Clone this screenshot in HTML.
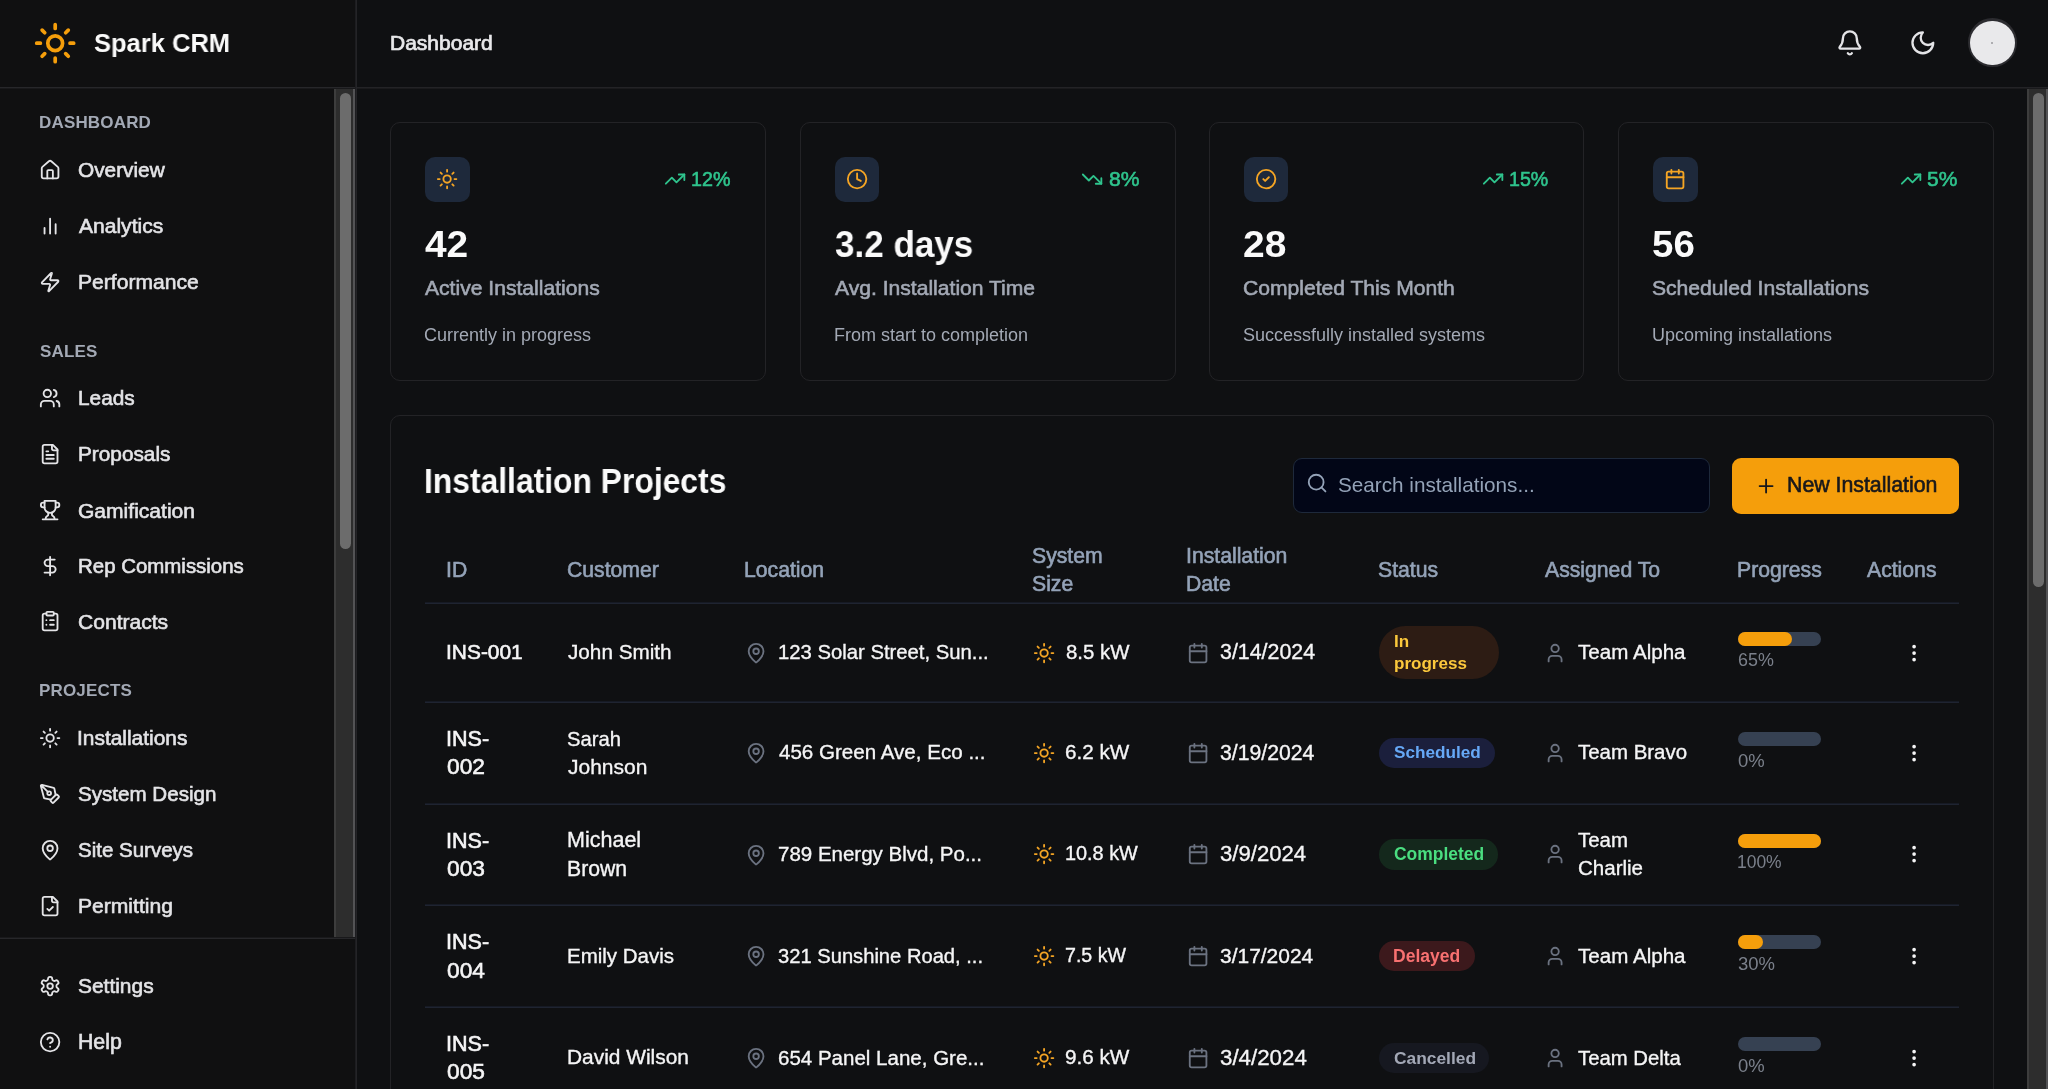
<!DOCTYPE html>
<html><head><meta charset="utf-8"><title>Spark CRM</title>
<style>
html,body{margin:0;padding:0;width:2048px;height:1089px;overflow:hidden;background:#0f1012;font-family:'Liberation Sans', sans-serif;}
.t{position:absolute;white-space:nowrap;font-family:'Liberation Sans', sans-serif;will-change:transform;}
.b{position:absolute;}
.i{position:absolute;overflow:visible;}
</style></head><body>
<div class="b" style="left:0px;top:0px;width:355px;height:1089px;background:#101011;"></div>
<div class="b" style="left:355px;top:0px;width:1px;height:1089px;background:#1d1d20;"></div>
<div class="b" style="left:356px;top:0px;width:1px;height:1089px;background:#242427;"></div>
<div class="b" style="left:0px;top:87px;width:355px;height:1px;background:#27272a;"></div>
<div class="b" style="left:0px;top:88px;width:355px;height:1px;background:#19191b;"></div>
<div class="b" style="left:357px;top:87px;width:1691px;height:1px;background:#232326;"></div>
<div class="b" style="left:357px;top:88px;width:1691px;height:1px;background:#1a1a1c;"></div>
<div class="b" style="left:0px;top:938px;width:355px;height:1px;background:#27272a;"></div>
<div class="b" style="left:0px;top:937px;width:355px;height:1px;background:#19191b;"></div>
<svg class="i" style="left:33.4px;top:21.3px;width:44.4px;height:44.4px" viewBox="0 0 24 24" fill="none" stroke="#f59e0b" stroke-width="2" stroke-linecap="round" stroke-linejoin="round"><circle cx="12" cy="12" r="4"/><path d="M12 2v2M12 20v2M4.93 4.93l1.41 1.41M17.66 17.66l1.41 1.41M2 12h2M20 12h2M6.34 17.66l-1.41 1.41M19.07 4.93l-1.41 1.41"/></svg>
<div class="t" style="top:30.32px;font-size:26.3px;line-height:26.3px;color:#fafafa;transform:scaleX(0.9702);transform-origin:0 50%;font-weight:700;left:94.43px;">Spark CRM</div>
<div class="t" style="top:32px;font-size:21px;line-height:21px;color:#e8e8ea;-webkit-text-stroke:0.72px #e8e8ea;left:389.62px;">Dashboard</div>
<svg class="i" style="left:1836.05px;top:28.75px;width:27.7px;height:27.7px" viewBox="0 0 24 24" fill="none" stroke="#e4e4e7" stroke-width="2" stroke-linecap="round" stroke-linejoin="round"><path d="M10.268 21a2 2 0 0 0 3.464 0"/><path d="M3.262 15.326A1 1 0 0 0 4 17h16a1 1 0 0 0 .74-1.673C19.41 13.956 18 12.499 18 8A6 6 0 0 0 6 8c0 4.499-1.411 5.956-2.738 7.326"/></svg>
<svg class="i" style="left:1908.75px;top:29.15px;width:27.7px;height:27.7px" viewBox="0 0 24 24" fill="none" stroke="#e4e4e7" stroke-width="2" stroke-linecap="round" stroke-linejoin="round"><path d="M12 3a6 6 0 0 0 9 9 9 9 0 1 1-9-9Z"/></svg>
<div class="b" style="left:1967.8px;top:18.4px;width:49px;height:49px;border-radius:50%;background:#2c2c30"></div>
<div class="b" style="left:1970px;top:20.6px;width:44.6px;height:44.6px;border-radius:50%;background:#e9e9eb"></div>
<div class="b" style="left:1991px;top:42px;width:2px;height:2px;border-radius:50%;background:#9a9a9e"></div>
<div class="t" style="top:113.91px;font-size:17px;line-height:17px;color:#a3a9b5;font-weight:700;letter-spacing:0.17px;left:39.31px;">DASHBOARD</div>
<div class="t" style="top:342.52px;font-size:17px;line-height:17px;color:#a3a9b5;font-weight:700;letter-spacing:0.17px;left:39.59px;">SALES</div>
<div class="t" style="top:682.21px;font-size:17px;line-height:17px;color:#a3a9b5;font-weight:700;letter-spacing:0.17px;left:39.21px;">PROJECTS</div>
<svg class="i" style="left:39.1px;top:158.75px;width:22.2px;height:22.2px" viewBox="0 0 24 24" fill="none" stroke="#e4e4e7" stroke-width="2" stroke-linecap="round" stroke-linejoin="round"><path d="M15 21v-8a1 1 0 0 0-1-1h-4a1 1 0 0 0-1 1v8"/><path d="M3 10a2 2 0 0 1 .709-1.528l7-5.999a2 2 0 0 1 2.582 0l7 5.999A2 2 0 0 1 21 10v9a2 2 0 0 1-2 2H5a2 2 0 0 1-2-2z"/></svg>
<div class="t" style="top:159.65px;font-size:20.8px;line-height:20.8px;color:#e4e4e7;-webkit-text-stroke:0.6px #e4e4e7;left:78.26px;">Overview</div>
<svg class="i" style="left:39.1px;top:214.65px;width:22.2px;height:22.2px" viewBox="0 0 24 24" fill="none" stroke="#e4e4e7" stroke-width="2" stroke-linecap="round" stroke-linejoin="round"><path d="M18 20V10M12 20V4M6 20v-6"/></svg>
<div class="t" style="top:215.41px;font-size:21.06px;line-height:21.06px;color:#e4e4e7;-webkit-text-stroke:0.6px #e4e4e7;left:79.3px;">Analytics</div>
<svg class="i" style="left:39.1px;top:270.5px;width:22.2px;height:22.2px" viewBox="0 0 24 24" fill="none" stroke="#e4e4e7" stroke-width="2" stroke-linecap="round" stroke-linejoin="round"><path d="M4 14a1 1 0 0 1-.78-1.63l9.9-10.2a.5.5 0 0 1 .86.46l-1.92 6.02A1 1 0 0 0 13 10h7a1 1 0 0 1 .78 1.63l-9.9 10.2a.5.5 0 0 1-.86-.46l1.92-6.02A1 1 0 0 0 11 14z"/></svg>
<div class="t" style="top:271.25px;font-size:21.09px;line-height:21.09px;color:#e4e4e7;-webkit-text-stroke:0.6px #e4e4e7;left:77.61px;">Performance</div>
<svg class="i" style="left:39.1px;top:387.2px;width:22.2px;height:22.2px" viewBox="0 0 24 24" fill="none" stroke="#e4e4e7" stroke-width="2" stroke-linecap="round" stroke-linejoin="round"><path d="M16 21v-2a4 4 0 0 0-4-4H6a4 4 0 0 0-4 4v2"/><circle cx="9" cy="7" r="4"/><path d="M22 21v-2a4 4 0 0 0-3-3.87M16 3.13a4 4 0 0 1 0 7.75"/></svg>
<div class="t" style="top:388.1px;font-size:20.8px;line-height:20.8px;color:#e4e4e7;-webkit-text-stroke:0.6px #e4e4e7;left:77.64px;">Leads</div>
<svg class="i" style="left:39.1px;top:443.2px;width:22.2px;height:22.2px" viewBox="0 0 24 24" fill="none" stroke="#e4e4e7" stroke-width="2" stroke-linecap="round" stroke-linejoin="round"><path d="M15 2H6a2 2 0 0 0-2 2v16a2 2 0 0 0 2 2h12a2 2 0 0 0 2-2V7Z"/><path d="M14 2v4a2 2 0 0 0 2 2h4M10 9H8M16 13H8M16 17H8"/></svg>
<div class="t" style="top:444.1px;font-size:20.79px;line-height:20.79px;color:#e4e4e7;-webkit-text-stroke:0.6px #e4e4e7;left:77.64px;">Proposals</div>
<svg class="i" style="left:39.1px;top:499.05px;width:22.2px;height:22.2px" viewBox="0 0 24 24" fill="none" stroke="#e4e4e7" stroke-width="2" stroke-linecap="round" stroke-linejoin="round"><path d="M6 9H4.5a2.5 2.5 0 0 1 0-5H6M18 9h1.5a2.5 2.5 0 0 0 0-5H18M4 22h16M10 14.66V17c0 .55-.47.98-.97 1.21C7.85 18.75 7 20.24 7 22M14 14.66V17c0 .55.47.98.97 1.21C16.15 18.75 17 20.24 17 22"/><path d="M18 2H6v7a6 6 0 0 0 12 0V2Z"/></svg>
<div class="t" style="top:499.82px;font-size:21.05px;line-height:21.05px;color:#e4e4e7;-webkit-text-stroke:0.6px #e4e4e7;left:78.25px;">Gamification</div>
<svg class="i" style="left:39.1px;top:554.8px;width:22.2px;height:22.2px" viewBox="0 0 24 24" fill="none" stroke="#e4e4e7" stroke-width="2" stroke-linecap="round" stroke-linejoin="round"><path d="M12 2v20M17 5H9.5a3.5 3.5 0 0 0 0 7h5a3.5 3.5 0 0 1 0 7H6"/></svg>
<div class="t" style="top:555.87px;font-size:20.45px;line-height:20.45px;color:#e4e4e7;-webkit-text-stroke:0.6px #e4e4e7;left:77.66px;">Rep Commissions</div>
<svg class="i" style="left:39.1px;top:610.25px;width:22.2px;height:22.2px" viewBox="0 0 24 24" fill="none" stroke="#e4e4e7" stroke-width="2" stroke-linecap="round" stroke-linejoin="round"><rect width="8" height="4" x="8" y="2" rx="1" ry="1"/><path d="M16 4h2a2 2 0 0 1 2 2v14a2 2 0 0 1-2 2H6a2 2 0 0 1-2-2V6a2 2 0 0 1 2-2h2M12 11h4M12 16h4M8 11h.01M8 16h.01"/></svg>
<div class="t" style="top:611.01px;font-size:21.07px;line-height:21.07px;color:#e4e4e7;-webkit-text-stroke:0.6px #e4e4e7;left:78.25px;">Contracts</div>
<svg class="i" style="left:39.1px;top:727.4px;width:22.2px;height:22.2px" viewBox="0 0 24 24" fill="none" stroke="#e4e4e7" stroke-width="2" stroke-linecap="round" stroke-linejoin="round"><circle cx="12" cy="12" r="4"/><path d="M12 2v2M12 20v2M4.93 4.93l1.41 1.41M17.66 17.66l1.41 1.41M2 12h2M20 12h2M6.34 17.66l-1.41 1.41M19.07 4.93l-1.41 1.41"/></svg>
<div class="t" style="top:728.24px;font-size:20.91px;line-height:20.91px;color:#e4e4e7;-webkit-text-stroke:0.6px #e4e4e7;left:77.42px;">Installations</div>
<svg class="i" style="left:39.1px;top:783.25px;width:22.2px;height:22.2px" viewBox="0 0 24 24" fill="none" stroke="#e4e4e7" stroke-width="2" stroke-linecap="round" stroke-linejoin="round"><path d="M15.707 21.293a1 1 0 0 1-1.414 0l-1.586-1.586a1 1 0 0 1 0-1.414l5.586-5.586a1 1 0 0 1 1.414 0l1.586 1.586a1 1 0 0 1 0 1.414z"/><path d="m18 13-1.375-6.874a1 1 0 0 0-.746-.776L3.235 2.028a1 1 0 0 0-1.207 1.207L5.35 15.879a1 1 0 0 0 .776.746L13 18M2.3 2.3l7.286 7.286"/><circle cx="11" cy="11" r="2"/></svg>
<div class="t" style="top:784.25px;font-size:20.59px;line-height:20.59px;color:#e4e4e7;-webkit-text-stroke:0.6px #e4e4e7;left:78.27px;">System Design</div>
<svg class="i" style="left:39.1px;top:838.8px;width:22.2px;height:22.2px" viewBox="0 0 24 24" fill="none" stroke="#e4e4e7" stroke-width="2" stroke-linecap="round" stroke-linejoin="round"><path d="M20 10c0 4.993-5.539 10.193-7.399 11.799a1 1 0 0 1-1.202 0C9.539 20.193 4 14.993 4 10a8 8 0 0 1 16 0"/><circle cx="12" cy="10" r="3"/></svg>
<div class="t" style="top:839.84px;font-size:20.51px;line-height:20.51px;color:#e4e4e7;-webkit-text-stroke:0.6px #e4e4e7;left:78.27px;">Site Surveys</div>
<svg class="i" style="left:39.1px;top:894.65px;width:22.2px;height:22.2px" viewBox="0 0 24 24" fill="none" stroke="#e4e4e7" stroke-width="2" stroke-linecap="round" stroke-linejoin="round"><path d="M15 2H6a2 2 0 0 0-2 2v16a2 2 0 0 0 2 2h12a2 2 0 0 0 2-2V7Z"/><path d="M14 2v4a2 2 0 0 0 2 2h4M9 15l2 2 4-4"/></svg>
<div class="t" style="top:895.4px;font-size:21.08px;line-height:21.08px;color:#e4e4e7;-webkit-text-stroke:0.6px #e4e4e7;left:77.61px;">Permitting</div>
<svg class="i" style="left:39.1px;top:975.15px;width:22.2px;height:22.2px" viewBox="0 0 24 24" fill="none" stroke="#e4e4e7" stroke-width="2" stroke-linecap="round" stroke-linejoin="round"><path d="M12.22 2h-.44a2 2 0 0 0-2 2v.18a2 2 0 0 1-1 1.73l-.43.25a2 2 0 0 1-2 0l-.15-.08a2 2 0 0 0-2.73.73l-.22.38a2 2 0 0 0 .73 2.73l.15.1a2 2 0 0 1 1 1.72v.51a2 2 0 0 1-1 1.74l-.15.09a2 2 0 0 0-.73 2.73l.22.38a2 2 0 0 0 2.73.73l.15-.08a2 2 0 0 1 2 0l.43.25a2 2 0 0 1 1 1.73V20a2 2 0 0 0 2 2h.44a2 2 0 0 0 2-2v-.18a2 2 0 0 1 1-1.73l.43-.25a2 2 0 0 1 2 0l.15.08a2 2 0 0 0 2.73-.73l.22-.39a2 2 0 0 0-.73-2.73l-.15-.08a2 2 0 0 1-1-1.74v-.5a2 2 0 0 1 1-1.74l.15-.09a2 2 0 0 0 .73-2.73l-.22-.38a2 2 0 0 0-2.73-.73l-.15.08a2 2 0 0 1-2 0l-.43-.25a2 2 0 0 1-1-1.73V4a2 2 0 0 0-2-2z"/><circle cx="12" cy="12" r="3"/></svg>
<div class="t" style="top:975.98px;font-size:20.93px;line-height:20.93px;color:#e4e4e7;-webkit-text-stroke:0.6px #e4e4e7;left:78.25px;">Settings</div>
<svg class="i" style="left:39.1px;top:1030.95px;width:22.2px;height:22.2px" viewBox="0 0 24 24" fill="none" stroke="#e4e4e7" stroke-width="2" stroke-linecap="round" stroke-linejoin="round"><circle cx="12" cy="12" r="10"/><path d="M9.09 9a3 3 0 0 1 5.83 1c0 2-3 3-3 3M12 17h.01"/></svg>
<div class="t" style="top:1031.6px;font-size:21.29px;line-height:21.29px;color:#e4e4e7;-webkit-text-stroke:0.6px #e4e4e7;left:77.6px;">Help</div>
<div class="b" style="left:334px;top:89px;width:21px;height:848px;background:#2d2d2d;"></div>
<div class="b" style="left:334px;top:89px;width:2px;height:848px;background:#3d3d3d;"></div>
<div class="b" style="left:353px;top:89px;width:2px;height:848px;background:#535355;"></div>
<div class="b" style="left:340px;top:93px;width:11px;height:456px;background:#6c6c6c;border-radius:5.5px;"></div>
<div class="b" style="left:2027px;top:89px;width:21px;height:1000px;background:#2d2d2d;"></div>
<div class="b" style="left:2027px;top:89px;width:2px;height:1000px;background:#3d3d3d;"></div>
<div class="b" style="left:2046px;top:89px;width:2px;height:1000px;background:#535355;"></div>
<div class="b" style="left:2033px;top:93px;width:11px;height:494px;background:#6c6c6c;border-radius:5.5px;"></div>
<div class="b" style="left:390px;top:122.4px;width:375.9px;height:259.1px;border:1px solid #232326;border-radius:10px;background:transparent;box-sizing:border-box;"></div>
<div class="b" style="left:425.2px;top:157.2px;width:44.4px;height:44.4px;background:#1e293b;border-radius:10px;"></div>
<svg class="i" style="left:436.3px;top:168.3px;width:22.2px;height:22.2px" viewBox="0 0 24 24" fill="none" stroke="#f5a524" stroke-width="2" stroke-linecap="round" stroke-linejoin="round"><circle cx="12" cy="12" r="4"/><path d="M12 2v2M12 20v2M4.93 4.93l1.41 1.41M17.66 17.66l1.41 1.41M2 12h2M20 12h2M6.34 17.66l-1.41 1.41M19.07 4.93l-1.41 1.41"/></svg>
<div class="t" style="top:227.22px;font-size:36.5px;line-height:36.5px;color:#fafafa;transform:scaleX(1.0649);transform-origin:0 50%;font-weight:700;left:425.31px;">42</div>
<div class="t" style="top:277.39px;font-size:21.1px;line-height:21.1px;color:#a3a9b5;-webkit-text-stroke:0.6px #a3a9b5;left:425.2px;">Active Installations</div>
<div class="t" style="top:326.11px;font-size:18px;line-height:18px;color:#a3a9b5;left:424.3px;">Currently in progress</div>
<div class="t" style="top:170.4px;font-size:19.7px;line-height:19.7px;color:#2fc48d;-webkit-text-stroke:0.6px #2fc48d;left:690.52px;">12%</div>
<svg class="i" style="left:664px;top:168.4px;width:22.2px;height:22.2px" viewBox="0 0 24 24" fill="none" stroke="#2fc48d" stroke-width="2" stroke-linecap="round" stroke-linejoin="round"><path d="M22 7l-8.5 8.5-5-5L2 17"/><path d="M16 7h6v6"/></svg>
<div class="b" style="left:799.8px;top:122.4px;width:375.9px;height:259.1px;border:1px solid #232326;border-radius:10px;background:transparent;box-sizing:border-box;"></div>
<div class="b" style="left:835px;top:157.2px;width:44.4px;height:44.4px;background:#1e293b;border-radius:10px;"></div>
<svg class="i" style="left:846.1px;top:168.3px;width:22.2px;height:22.2px" viewBox="0 0 24 24" fill="none" stroke="#f5a524" stroke-width="2" stroke-linecap="round" stroke-linejoin="round"><circle cx="12" cy="12" r="10"/><path d="M12 6v6l4 2"/></svg>
<div class="t" style="top:227.22px;font-size:36.5px;line-height:36.5px;color:#fafafa;transform:scaleX(0.9593);transform-origin:0 50%;font-weight:700;left:834.5px;">3.2 days</div>
<div class="t" style="top:277.39px;font-size:21.1px;line-height:21.1px;color:#a3a9b5;-webkit-text-stroke:0.6px #a3a9b5;left:835px;">Avg. Installation Time</div>
<div class="t" style="top:326.11px;font-size:18px;line-height:18px;color:#a3a9b5;left:833.56px;">From start to completion</div>
<div class="t" style="top:168.09px;font-size:21.1px;line-height:21.1px;color:#2fc48d;-webkit-text-stroke:0.6px #2fc48d;left:1108.66px;">8%</div>
<svg class="i" style="left:1081px;top:168.4px;width:22.2px;height:22.2px" viewBox="0 0 24 24" fill="none" stroke="#2fc48d" stroke-width="2" stroke-linecap="round" stroke-linejoin="round"><path d="M22 17l-8.5-8.5-5 5L2 7"/><path d="M16 17h6v-6"/></svg>
<div class="b" style="left:1208.6px;top:122.4px;width:375.9px;height:259.1px;border:1px solid #232326;border-radius:10px;background:transparent;box-sizing:border-box;"></div>
<div class="b" style="left:1243.8px;top:157.2px;width:44.4px;height:44.4px;background:#1e293b;border-radius:10px;"></div>
<svg class="i" style="left:1254.9px;top:168.3px;width:22.2px;height:22.2px" viewBox="0 0 24 24" fill="none" stroke="#f5a524" stroke-width="2" stroke-linecap="round" stroke-linejoin="round"><circle cx="12" cy="12" r="10"/><path d="m9 12 2 2 4-4"/></svg>
<div class="t" style="top:227.22px;font-size:36.5px;line-height:36.5px;color:#fafafa;transform:scaleX(1.0672);transform-origin:0 50%;font-weight:700;left:1243.23px;">28</div>
<div class="t" style="top:277.39px;font-size:21.1px;line-height:21.1px;color:#a3a9b5;-webkit-text-stroke:0.6px #a3a9b5;left:1242.74px;">Completed This Month</div>
<div class="t" style="top:326.11px;font-size:18px;line-height:18px;color:#a3a9b5;left:1242.9px;">Successfully installed systems</div>
<div class="t" style="top:170.45px;font-size:19.6px;line-height:19.6px;color:#2fc48d;-webkit-text-stroke:0.6px #2fc48d;left:1509.33px;">15%</div>
<svg class="i" style="left:1481.7px;top:168.4px;width:22.2px;height:22.2px" viewBox="0 0 24 24" fill="none" stroke="#2fc48d" stroke-width="2" stroke-linecap="round" stroke-linejoin="round"><path d="M22 7l-8.5 8.5-5-5L2 17"/><path d="M16 7h6v6"/></svg>
<div class="b" style="left:1618.1px;top:122.4px;width:375.9px;height:259.1px;border:1px solid #232326;border-radius:10px;background:transparent;box-sizing:border-box;"></div>
<div class="b" style="left:1653.3px;top:157.2px;width:44.4px;height:44.4px;background:#1e293b;border-radius:10px;"></div>
<svg class="i" style="left:1664.4px;top:168.3px;width:22.2px;height:22.2px" viewBox="0 0 24 24" fill="none" stroke="#f5a524" stroke-width="2" stroke-linecap="round" stroke-linejoin="round"><path d="M8 2v4M16 2v4"/><rect width="18" height="18" x="3" y="4" rx="2"/><path d="M3 10h18"/></svg>
<div class="t" style="top:227.22px;font-size:36.5px;line-height:36.5px;color:#fafafa;transform:scaleX(1.0541);transform-origin:0 50%;font-weight:700;left:1652.15px;">56</div>
<div class="t" style="top:277.39px;font-size:21.1px;line-height:21.1px;color:#a3a9b5;-webkit-text-stroke:0.6px #a3a9b5;left:1652.24px;">Scheduled Installations</div>
<div class="t" style="top:326.11px;font-size:18px;line-height:18px;color:#a3a9b5;left:1651.86px;">Upcoming installations</div>
<div class="t" style="top:168.15px;font-size:21px;line-height:21px;color:#2fc48d;-webkit-text-stroke:0.6px #2fc48d;left:1927.26px;">5%</div>
<svg class="i" style="left:1899.5px;top:168.4px;width:22.2px;height:22.2px" viewBox="0 0 24 24" fill="none" stroke="#2fc48d" stroke-width="2" stroke-linecap="round" stroke-linejoin="round"><path d="M22 7l-8.5 8.5-5-5L2 17"/><path d="M16 7h6v6"/></svg>
<div class="b" style="left:390px;top:415px;width:1603.5px;height:720px;border:1px solid #232326;border-radius:10px;background:transparent;box-sizing:border-box;"></div>
<div class="t" style="top:463.93px;font-size:34.4px;line-height:34.4px;color:#fafafa;transform:scaleX(0.9250);transform-origin:0 50%;font-weight:700;left:424.17px;">Installation Projects</div>
<div class="b" style="left:1292.6px;top:458px;width:417.2px;height:55.4px;border:1px solid #1e293b;border-radius:9px;background:#020617;box-sizing:border-box;"></div>
<svg class="i" style="left:1306.2px;top:472.3px;width:22.2px;height:22.2px" viewBox="0 0 24 24" fill="none" stroke="#94a3b8" stroke-width="2" stroke-linecap="round" stroke-linejoin="round"><circle cx="11" cy="11" r="8"/><path d="m21 21-4.3-4.3"/></svg>
<div class="t" style="top:475.25px;font-size:20.7px;line-height:20.7px;color:#94a3b8;left:1337.76px;">Search installations...</div>
<div class="b" style="left:1732.4px;top:458px;width:226.7px;height:56px;background:#f59e0b;border-radius:9px;"></div>
<svg class="i" style="left:1754.7px;top:474.7px;width:22.2px;height:22.2px" viewBox="0 0 24 24" fill="none" stroke="#18181b" stroke-width="2" stroke-linecap="round" stroke-linejoin="round"><path d="M5 12h14M12 5v14"/></svg>
<div class="t" style="top:475.04px;font-size:21.3px;line-height:21.3px;color:#18181b;-webkit-text-stroke:0.6px #18181b;left:1787px;">New Installation</div>
<div class="t" style="top:559.14px;font-size:21.2px;line-height:21.2px;color:#94a3b8;-webkit-text-stroke:0.6px #94a3b8;left:445.79px;">ID</div>
<div class="t" style="top:559.14px;font-size:21.2px;line-height:21.2px;color:#94a3b8;-webkit-text-stroke:0.6px #94a3b8;left:567.04px;">Customer</div>
<div class="t" style="top:559.14px;font-size:21.2px;line-height:21.2px;color:#94a3b8;-webkit-text-stroke:0.6px #94a3b8;left:744.4px;">Location</div>
<div class="t" style="top:545.09px;font-size:21.2px;line-height:21.2px;color:#94a3b8;-webkit-text-stroke:0.6px #94a3b8;left:1032.24px;">System</div>
<div class="t" style="top:572.99px;font-size:21.2px;line-height:21.2px;color:#94a3b8;-webkit-text-stroke:0.6px #94a3b8;left:1032.24px;">Size</div>
<div class="t" style="top:545.09px;font-size:21.2px;line-height:21.2px;color:#94a3b8;-webkit-text-stroke:0.6px #94a3b8;left:1185.89px;">Installation</div>
<div class="t" style="top:572.99px;font-size:21.2px;line-height:21.2px;color:#94a3b8;-webkit-text-stroke:0.6px #94a3b8;left:1186.1px;">Date</div>
<div class="t" style="top:559.14px;font-size:21.2px;line-height:21.2px;color:#94a3b8;-webkit-text-stroke:0.6px #94a3b8;left:1378.24px;">Status</div>
<div class="t" style="top:559.14px;font-size:21.2px;line-height:21.2px;color:#94a3b8;-webkit-text-stroke:0.6px #94a3b8;left:1545px;">Assigned To</div>
<div class="t" style="top:559.14px;font-size:21.2px;line-height:21.2px;color:#94a3b8;-webkit-text-stroke:0.6px #94a3b8;left:1737.1px;">Progress</div>
<div class="t" style="top:559.14px;font-size:21.2px;line-height:21.2px;color:#94a3b8;-webkit-text-stroke:0.6px #94a3b8;left:1866.6px;">Actions</div>
<div class="b" style="left:425px;top:602px;width:1534px;height:1px;background:#161a24;"></div>
<div class="b" style="left:425px;top:603px;width:1534px;height:1px;background:#1f2431;"></div>
<div class="b" style="left:425px;top:701px;width:1534px;height:1px;background:#161a24;"></div>
<div class="b" style="left:425px;top:702px;width:1534px;height:1px;background:#1f2431;"></div>
<div class="b" style="left:425px;top:803px;width:1534px;height:1px;background:#161a24;"></div>
<div class="b" style="left:425px;top:804px;width:1534px;height:1px;background:#1f2431;"></div>
<div class="b" style="left:425px;top:904px;width:1534px;height:1px;background:#161a24;"></div>
<div class="b" style="left:425px;top:905px;width:1534px;height:1px;background:#1f2431;"></div>
<div class="b" style="left:425px;top:1006px;width:1534px;height:1px;background:#161a24;"></div>
<div class="b" style="left:425px;top:1007px;width:1534px;height:1px;background:#1f2431;"></div>
<div class="t" style="top:642.13px;font-size:20.93px;line-height:20.93px;color:#f5f5f6;-webkit-text-stroke:0.6px #f5f5f6;left:445.92px;">INS-001</div>
<div class="t" style="top:642.24px;font-size:20.71px;line-height:20.71px;color:#f5f5f6;-webkit-text-stroke:0.35px #f5f5f6;left:567.89px;">John Smith</div>
<svg class="i" style="left:744.5px;top:641.8px;width:22.2px;height:22.2px" viewBox="0 0 24 24" fill="none" stroke="#6b7280" stroke-width="2" stroke-linecap="round" stroke-linejoin="round"><path d="M20 10c0 4.993-5.539 10.193-7.399 11.799a1 1 0 0 1-1.202 0C9.539 20.193 4 14.993 4 10a8 8 0 0 1 16 0"/><circle cx="12" cy="10" r="3"/></svg>
<div class="t" style="top:642.46px;font-size:20.27px;line-height:20.27px;color:#f5f5f6;-webkit-text-stroke:0.35px #f5f5f6;left:777.88px;">123 Solar Street, Sun...</div>
<svg class="i" style="left:1033.3px;top:641.6px;width:22.2px;height:22.2px" viewBox="0 0 24 24" fill="none" stroke="#f5a524" stroke-width="2" stroke-linecap="round" stroke-linejoin="round"><circle cx="12" cy="12" r="4"/><path d="M12 2v2M12 20v2M4.93 4.93l1.41 1.41M17.66 17.66l1.41 1.41M2 12h2M20 12h2M6.34 17.66l-1.41 1.41M19.07 4.93l-1.41 1.41"/></svg>
<div class="t" style="top:642.4px;font-size:20.39px;line-height:20.39px;color:#f5f5f6;-webkit-text-stroke:0.35px #f5f5f6;left:1065.58px;">8.5 kW</div>
<svg class="i" style="left:1186.8px;top:641.6px;width:22.2px;height:22.2px" viewBox="0 0 24 24" fill="none" stroke="#6b7280" stroke-width="2" stroke-linecap="round" stroke-linejoin="round"><path d="M8 2v4M16 2v4"/><rect width="18" height="18" x="3" y="4" rx="2"/><path d="M3 10h18"/></svg>
<div class="t" style="top:641.91px;font-size:21.37px;line-height:21.37px;color:#f5f5f6;-webkit-text-stroke:0.35px #f5f5f6;left:1219.95px;">3/14/2024</div>
<div class="b" style="left:1379.1px;top:626.25px;width:120.2px;height:52.9px;background:#2d1c14;border-radius:26.45px;"></div>
<div class="t" style="top:632.78px;font-size:17.06px;line-height:17.06px;color:#fbc83c;font-weight:700;left:1393.58px;">In</div>
<div class="t" style="top:654.68px;font-size:17.06px;line-height:17.06px;color:#fbc83c;font-weight:700;left:1393.58px;">progress</div>
<svg class="i" style="left:1544.1px;top:641.6px;width:22.2px;height:22.2px" viewBox="0 0 24 24" fill="none" stroke="#6b7280" stroke-width="2" stroke-linecap="round" stroke-linejoin="round"><path d="M19 21v-2a4 4 0 0 0-4-4H9a4 4 0 0 0-4 4v2"/><circle cx="12" cy="7" r="4"/></svg>
<div class="t" style="top:642.31px;font-size:20.58px;line-height:20.58px;color:#f5f5f6;-webkit-text-stroke:0.35px #f5f5f6;left:1578.49px;">Team Alpha</div>
<div class="b" style="left:1737.8px;top:631.9px;width:83.5px;height:13.9px;background:#364152;border-radius:6.95px;"></div>
<div class="b" style="left:1737.8px;top:631.9px;width:54.27px;height:13.9px;background:#f59e0b;border-radius:6.95px;"></div>
<div class="t" style="top:652.15px;font-size:17.92px;line-height:17.92px;color:#7b808b;left:1737.8px;">65%</div>
<svg class="i" style="left:1902.9px;top:641.6px;width:22.2px;height:22.2px" viewBox="0 0 24 24" fill="none" stroke="#f5f5f6" stroke-width="2" stroke-linecap="round" stroke-linejoin="round"><circle cx="12" cy="12" r="1"/><circle cx="12" cy="5" r="1"/><circle cx="12" cy="19" r="1"/></svg>
<div class="t" style="top:727.82px;font-size:21.55px;line-height:21.55px;color:#f5f5f6;-webkit-text-stroke:0.6px #f5f5f6;left:445.86px;">INS-</div>
<div class="t" style="top:755.13px;font-size:22.72px;line-height:22.72px;color:#f5f5f6;-webkit-text-stroke:0.6px #f5f5f6;left:446.89px;">002</div>
<div class="t" style="top:728.5px;font-size:20.2px;line-height:20.2px;color:#f5f5f6;-webkit-text-stroke:0.35px #f5f5f6;left:567.29px;">Sarah</div>
<div class="t" style="top:756px;font-size:21px;line-height:21px;color:#f5f5f6;-webkit-text-stroke:0.35px #f5f5f6;left:567.88px;">Johnson</div>
<svg class="i" style="left:744.5px;top:741.8px;width:22.2px;height:22.2px" viewBox="0 0 24 24" fill="none" stroke="#6b7280" stroke-width="2" stroke-linecap="round" stroke-linejoin="round"><path d="M20 10c0 4.993-5.539 10.193-7.399 11.799a1 1 0 0 1-1.202 0C9.539 20.193 4 14.993 4 10a8 8 0 0 1 16 0"/><circle cx="12" cy="10" r="3"/></svg>
<div class="t" style="top:742.31px;font-size:20.57px;line-height:20.57px;color:#f5f5f6;-webkit-text-stroke:0.35px #f5f5f6;left:778.89px;">456 Green Ave, Eco ...</div>
<svg class="i" style="left:1033.3px;top:741.6px;width:22.2px;height:22.2px" viewBox="0 0 24 24" fill="none" stroke="#f5a524" stroke-width="2" stroke-linecap="round" stroke-linejoin="round"><circle cx="12" cy="12" r="4"/><path d="M12 2v2M12 20v2M4.93 4.93l1.41 1.41M17.66 17.66l1.41 1.41M2 12h2M20 12h2M6.34 17.66l-1.41 1.41M19.07 4.93l-1.41 1.41"/></svg>
<div class="t" style="top:742.27px;font-size:20.65px;line-height:20.65px;color:#f5f5f6;-webkit-text-stroke:0.35px #f5f5f6;left:1065.37px;">6.2 kW</div>
<svg class="i" style="left:1186.8px;top:741.6px;width:22.2px;height:22.2px" viewBox="0 0 24 24" fill="none" stroke="#6b7280" stroke-width="2" stroke-linecap="round" stroke-linejoin="round"><path d="M8 2v4M16 2v4"/><rect width="18" height="18" x="3" y="4" rx="2"/><path d="M3 10h18"/></svg>
<div class="t" style="top:741.98px;font-size:21.23px;line-height:21.23px;color:#f5f5f6;-webkit-text-stroke:0.35px #f5f5f6;left:1219.95px;">3/19/2024</div>
<div class="b" style="left:1378.8px;top:737.5px;width:116.5px;height:30.4px;background:#1b1f3c;border-radius:15.2px;"></div>
<div class="t" style="top:744.42px;font-size:17.18px;line-height:17.18px;color:#66a8f6;font-weight:700;left:1393.78px;">Scheduled</div>
<svg class="i" style="left:1544.1px;top:741.6px;width:22.2px;height:22.2px" viewBox="0 0 24 24" fill="none" stroke="#6b7280" stroke-width="2" stroke-linecap="round" stroke-linejoin="round"><path d="M19 21v-2a4 4 0 0 0-4-4H9a4 4 0 0 0-4 4v2"/><circle cx="12" cy="7" r="4"/></svg>
<div class="t" style="top:742.38px;font-size:20.44px;line-height:20.44px;color:#f5f5f6;-webkit-text-stroke:0.35px #f5f5f6;left:1578.49px;">Team Bravo</div>
<div class="b" style="left:1737.8px;top:731.9px;width:83.5px;height:13.9px;background:#364152;border-radius:6.95px;"></div>
<div class="t" style="top:751.87px;font-size:18.47px;line-height:18.47px;color:#7b808b;left:1737.96px;">0%</div>
<svg class="i" style="left:1902.9px;top:741.6px;width:22.2px;height:22.2px" viewBox="0 0 24 24" fill="none" stroke="#f5f5f6" stroke-width="2" stroke-linecap="round" stroke-linejoin="round"><circle cx="12" cy="12" r="1"/><circle cx="12" cy="5" r="1"/><circle cx="12" cy="19" r="1"/></svg>
<div class="t" style="top:829.57px;font-size:21.55px;line-height:21.55px;color:#f5f5f6;-webkit-text-stroke:0.6px #f5f5f6;left:445.86px;">INS-</div>
<div class="t" style="top:856.88px;font-size:22.72px;line-height:22.72px;color:#f5f5f6;-webkit-text-stroke:0.6px #f5f5f6;left:446.89px;">003</div>
<div class="t" style="top:829.58px;font-size:21.52px;line-height:21.52px;color:#f5f5f6;-webkit-text-stroke:0.35px #f5f5f6;left:566.58px;">Michael</div>
<div class="t" style="top:857.63px;font-size:21.23px;line-height:21.23px;color:#f5f5f6;-webkit-text-stroke:0.35px #f5f5f6;left:566.6px;">Brown</div>
<svg class="i" style="left:744.5px;top:843.55px;width:22.2px;height:22.2px" viewBox="0 0 24 24" fill="none" stroke="#6b7280" stroke-width="2" stroke-linecap="round" stroke-linejoin="round"><path d="M20 10c0 4.993-5.539 10.193-7.399 11.799a1 1 0 0 1-1.202 0C9.539 20.193 4 14.993 4 10a8 8 0 0 1 16 0"/><circle cx="12" cy="10" r="3"/></svg>
<div class="t" style="top:844.09px;font-size:20.51px;line-height:20.51px;color:#f5f5f6;-webkit-text-stroke:0.35px #f5f5f6;left:778.27px;">789 Energy Blvd, Po...</div>
<svg class="i" style="left:1033.3px;top:843.35px;width:22.2px;height:22.2px" viewBox="0 0 24 24" fill="none" stroke="#f5a524" stroke-width="2" stroke-linecap="round" stroke-linejoin="round"><circle cx="12" cy="12" r="4"/><path d="M12 2v2M12 20v2M4.93 4.93l1.41 1.41M17.66 17.66l1.41 1.41M2 12h2M20 12h2M6.34 17.66l-1.41 1.41M19.07 4.93l-1.41 1.41"/></svg>
<div class="t" style="top:844.42px;font-size:19.86px;line-height:19.86px;color:#f5f5f6;-webkit-text-stroke:0.35px #f5f5f6;left:1065.01px;">10.8 kW</div>
<svg class="i" style="left:1186.8px;top:843.35px;width:22.2px;height:22.2px" viewBox="0 0 24 24" fill="none" stroke="#6b7280" stroke-width="2" stroke-linecap="round" stroke-linejoin="round"><path d="M8 2v4M16 2v4"/><rect width="18" height="18" x="3" y="4" rx="2"/><path d="M3 10h18"/></svg>
<div class="t" style="top:843.28px;font-size:22.11px;line-height:22.11px;color:#f5f5f6;-webkit-text-stroke:0.35px #f5f5f6;left:1219.92px;">3/9/2024</div>
<div class="b" style="left:1378.8px;top:839.25px;width:119.1px;height:30.4px;background:#14281c;border-radius:15.2px;"></div>
<div class="t" style="top:846.03px;font-size:17.47px;line-height:17.47px;color:#4ade80;font-weight:700;left:1393.6px;">Completed</div>
<svg class="i" style="left:1544.1px;top:843.35px;width:22.2px;height:22.2px" viewBox="0 0 24 24" fill="none" stroke="#6b7280" stroke-width="2" stroke-linecap="round" stroke-linejoin="round"><path d="M19 21v-2a4 4 0 0 0-4-4H9a4 4 0 0 0-4 4v2"/><circle cx="12" cy="7" r="4"/></svg>
<div class="t" style="top:830.14px;font-size:20.42px;line-height:20.42px;color:#f5f5f6;-webkit-text-stroke:0.35px #f5f5f6;left:1578.49px;">Team</div>
<div class="t" style="top:857.99px;font-size:20.52px;line-height:20.52px;color:#f5f5f6;-webkit-text-stroke:0.35px #f5f5f6;left:1577.87px;">Charlie</div>
<div class="b" style="left:1737.8px;top:833.65px;width:83.5px;height:13.9px;background:#364152;border-radius:6.95px;"></div>
<div class="b" style="left:1737.8px;top:833.65px;width:83.5px;height:13.9px;background:#f59e0b;border-radius:6.95px;"></div>
<div class="t" style="top:854.13px;font-size:17.47px;line-height:17.47px;color:#7b808b;left:1737.48px;">100%</div>
<svg class="i" style="left:1902.9px;top:843.35px;width:22.2px;height:22.2px" viewBox="0 0 24 24" fill="none" stroke="#f5f5f6" stroke-width="2" stroke-linecap="round" stroke-linejoin="round"><circle cx="12" cy="12" r="1"/><circle cx="12" cy="5" r="1"/><circle cx="12" cy="19" r="1"/></svg>
<div class="t" style="top:931.32px;font-size:21.55px;line-height:21.55px;color:#f5f5f6;-webkit-text-stroke:0.6px #f5f5f6;left:445.86px;">INS-</div>
<div class="t" style="top:958.63px;font-size:22.72px;line-height:22.72px;color:#f5f5f6;-webkit-text-stroke:0.6px #f5f5f6;left:446.89px;">004</div>
<div class="t" style="top:945.85px;font-size:20.49px;line-height:20.49px;color:#f5f5f6;-webkit-text-stroke:0.35px #f5f5f6;left:566.66px;">Emily Davis</div>
<svg class="i" style="left:744.5px;top:945.3px;width:22.2px;height:22.2px" viewBox="0 0 24 24" fill="none" stroke="#6b7280" stroke-width="2" stroke-linecap="round" stroke-linejoin="round"><path d="M20 10c0 4.993-5.539 10.193-7.399 11.799a1 1 0 0 1-1.202 0C9.539 20.193 4 14.993 4 10a8 8 0 0 1 16 0"/><circle cx="12" cy="10" r="3"/></svg>
<div class="t" style="top:946.01px;font-size:20.17px;line-height:20.17px;color:#f5f5f6;-webkit-text-stroke:0.35px #f5f5f6;left:778.49px;">321 Sunshine Road, ...</div>
<svg class="i" style="left:1033.3px;top:945.1px;width:22.2px;height:22.2px" viewBox="0 0 24 24" fill="none" stroke="#f5a524" stroke-width="2" stroke-linecap="round" stroke-linejoin="round"><circle cx="12" cy="12" r="4"/><path d="M12 2v2M12 20v2M4.93 4.93l1.41 1.41M17.66 17.66l1.41 1.41M2 12h2M20 12h2M6.34 17.66l-1.41 1.41M19.07 4.93l-1.41 1.41"/></svg>
<div class="t" style="top:946.3px;font-size:19.61px;line-height:19.61px;color:#f5f5f6;-webkit-text-stroke:0.35px #f5f5f6;left:1065.42px;">7.5 kW</div>
<svg class="i" style="left:1186.8px;top:945.1px;width:22.2px;height:22.2px" viewBox="0 0 24 24" fill="none" stroke="#6b7280" stroke-width="2" stroke-linecap="round" stroke-linejoin="round"><path d="M8 2v4M16 2v4"/><rect width="18" height="18" x="3" y="4" rx="2"/><path d="M3 10h18"/></svg>
<div class="t" style="top:945.62px;font-size:20.96px;line-height:20.96px;color:#f5f5f6;-webkit-text-stroke:0.35px #f5f5f6;left:1219.96px;">3/17/2024</div>
<div class="b" style="left:1378.8px;top:941px;width:96.2px;height:30.4px;background:#3c191c;border-radius:15.2px;"></div>
<div class="t" style="top:947.74px;font-size:17.54px;line-height:17.54px;color:#f87171;font-weight:700;left:1393.07px;">Delayed</div>
<svg class="i" style="left:1544.1px;top:945.1px;width:22.2px;height:22.2px" viewBox="0 0 24 24" fill="none" stroke="#6b7280" stroke-width="2" stroke-linecap="round" stroke-linejoin="round"><path d="M19 21v-2a4 4 0 0 0-4-4H9a4 4 0 0 0-4 4v2"/><circle cx="12" cy="7" r="4"/></svg>
<div class="t" style="top:945.81px;font-size:20.58px;line-height:20.58px;color:#f5f5f6;-webkit-text-stroke:0.35px #f5f5f6;left:1578.49px;">Team Alpha</div>
<div class="b" style="left:1737.8px;top:935.4px;width:83.5px;height:13.9px;background:#364152;border-radius:6.95px;"></div>
<div class="b" style="left:1737.8px;top:935.4px;width:25.05px;height:13.9px;background:#f59e0b;border-radius:6.95px;"></div>
<div class="t" style="top:955.36px;font-size:18.5px;line-height:18.5px;color:#7b808b;left:1737.96px;">30%</div>
<svg class="i" style="left:1902.9px;top:945.1px;width:22.2px;height:22.2px" viewBox="0 0 24 24" fill="none" stroke="#f5f5f6" stroke-width="2" stroke-linecap="round" stroke-linejoin="round"><circle cx="12" cy="12" r="1"/><circle cx="12" cy="5" r="1"/><circle cx="12" cy="19" r="1"/></svg>
<div class="t" style="top:1033.02px;font-size:21.55px;line-height:21.55px;color:#f5f5f6;-webkit-text-stroke:0.6px #f5f5f6;left:445.86px;">INS-</div>
<div class="t" style="top:1060.33px;font-size:22.72px;line-height:22.72px;color:#f5f5f6;-webkit-text-stroke:0.6px #f5f5f6;left:446.89px;">005</div>
<div class="t" style="top:1047.35px;font-size:20.9px;line-height:20.9px;color:#f5f5f6;-webkit-text-stroke:0.35px #f5f5f6;left:566.63px;">David Wilson</div>
<svg class="i" style="left:744.5px;top:1047px;width:22.2px;height:22.2px" viewBox="0 0 24 24" fill="none" stroke="#6b7280" stroke-width="2" stroke-linecap="round" stroke-linejoin="round"><path d="M20 10c0 4.993-5.539 10.193-7.399 11.799a1 1 0 0 1-1.202 0C9.539 20.193 4 14.993 4 10a8 8 0 0 1 16 0"/><circle cx="12" cy="10" r="3"/></svg>
<div class="t" style="top:1047.54px;font-size:20.52px;line-height:20.52px;color:#f5f5f6;-webkit-text-stroke:0.35px #f5f5f6;left:778.27px;">654 Panel Lane, Gre...</div>
<svg class="i" style="left:1033.3px;top:1046.8px;width:22.2px;height:22.2px" viewBox="0 0 24 24" fill="none" stroke="#f5a524" stroke-width="2" stroke-linecap="round" stroke-linejoin="round"><circle cx="12" cy="12" r="4"/><path d="M12 2v2M12 20v2M4.93 4.93l1.41 1.41M17.66 17.66l1.41 1.41M2 12h2M20 12h2M6.34 17.66l-1.41 1.41M19.07 4.93l-1.41 1.41"/></svg>
<div class="t" style="top:1047.45px;font-size:20.69px;line-height:20.69px;color:#f5f5f6;-webkit-text-stroke:0.35px #f5f5f6;left:1065.37px;">9.6 kW</div>
<svg class="i" style="left:1186.8px;top:1046.8px;width:22.2px;height:22.2px" viewBox="0 0 24 24" fill="none" stroke="#6b7280" stroke-width="2" stroke-linecap="round" stroke-linejoin="round"><path d="M8 2v4M16 2v4"/><rect width="18" height="18" x="3" y="4" rx="2"/><path d="M3 10h18"/></svg>
<div class="t" style="top:1046.64px;font-size:22.3px;line-height:22.3px;color:#f5f5f6;-webkit-text-stroke:0.35px #f5f5f6;left:1219.91px;">3/4/2024</div>
<div class="b" style="left:1378.8px;top:1042.7px;width:110.5px;height:30.4px;background:#161820;border-radius:15.2px;"></div>
<div class="t" style="top:1049.52px;font-size:17.38px;line-height:17.38px;color:#a3a8b6;font-weight:700;left:1393.6px;">Cancelled</div>
<svg class="i" style="left:1544.1px;top:1046.8px;width:22.2px;height:22.2px" viewBox="0 0 24 24" fill="none" stroke="#6b7280" stroke-width="2" stroke-linecap="round" stroke-linejoin="round"><path d="M19 21v-2a4 4 0 0 0-4-4H9a4 4 0 0 0-4 4v2"/><circle cx="12" cy="7" r="4"/></svg>
<div class="t" style="top:1047.63px;font-size:20.34px;line-height:20.34px;color:#f5f5f6;-webkit-text-stroke:0.35px #f5f5f6;left:1578.49px;">Team Delta</div>
<div class="b" style="left:1737.8px;top:1037.1px;width:83.5px;height:13.9px;background:#364152;border-radius:6.95px;"></div>
<div class="t" style="top:1057.07px;font-size:18.47px;line-height:18.47px;color:#7b808b;left:1737.96px;">0%</div>
<svg class="i" style="left:1902.9px;top:1046.8px;width:22.2px;height:22.2px" viewBox="0 0 24 24" fill="none" stroke="#f5f5f6" stroke-width="2" stroke-linecap="round" stroke-linejoin="round"><circle cx="12" cy="12" r="1"/><circle cx="12" cy="5" r="1"/><circle cx="12" cy="19" r="1"/></svg>
</body></html>
